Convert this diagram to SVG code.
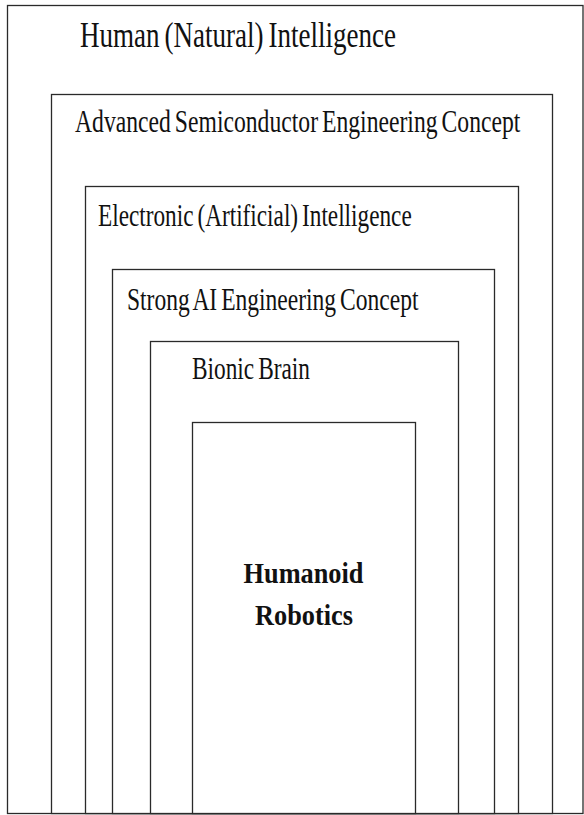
<svg xmlns="http://www.w3.org/2000/svg" width="584" height="815" viewBox="0 0 584 815">
  <style>
    .box { fill: #ffffff; stroke: #2a2a2a; stroke-width: 1.3; }
    .lbl { font-family: "Liberation Serif", "Times New Roman", serif; fill: #111111; word-spacing: -2.5px; }
    .core { font-family: "Liberation Serif", "Times New Roman", serif; font-weight: bold; fill: #111111; text-anchor: middle; }
  </style>
  <rect width="584" height="815" fill="#ffffff"/>

  <!-- nested layers, each open down to the common bottom edge; labels are set in a condensed serif -->
  <g id="human-intelligence">
    <rect class="box" x="7.5" y="5.5" width="575.5" height="808"/>
    <text class="lbl" transform="translate(80,47) scale(0.751,1)" font-size="36">Human (Natural) Intelligence</text>
  </g>

  <g id="semiconductor-concept">
    <rect class="box" x="51.5" y="94.5" width="501" height="719"/>
    <text class="lbl" transform="translate(75,132) scale(0.763,1)" font-size="31">Advanced Semiconductor Engineering Concept</text>
  </g>

  <g id="electronic-intelligence">
    <rect class="box" x="85.5" y="186.5" width="433" height="627"/>
    <text class="lbl" transform="translate(98,226) scale(0.750,1)" font-size="31">Electronic (Artificial) Intelligence</text>
  </g>

  <g id="strong-ai-concept">
    <rect class="box" x="112.5" y="269.5" width="382" height="544"/>
    <text class="lbl" transform="translate(127,310) scale(0.759,1)" font-size="31">Strong AI Engineering Concept</text>
  </g>

  <g id="bionic-brain">
    <rect class="box" x="150.5" y="341.5" width="308" height="472"/>
    <text class="lbl" transform="translate(192,379) scale(0.753,1)" font-size="31">Bionic Brain</text>
  </g>

  <g id="humanoid-robotics">
    <rect class="box" x="192.5" y="422.5" width="223" height="391"/>
    <text class="core" transform="translate(303.5,583) scale(0.878,1)" font-size="30">Humanoid</text>
    <text class="core" transform="translate(304,625) scale(0.877,1)" font-size="30">Robotics</text>
  </g>

  <g id="connectors"/>
</svg>
